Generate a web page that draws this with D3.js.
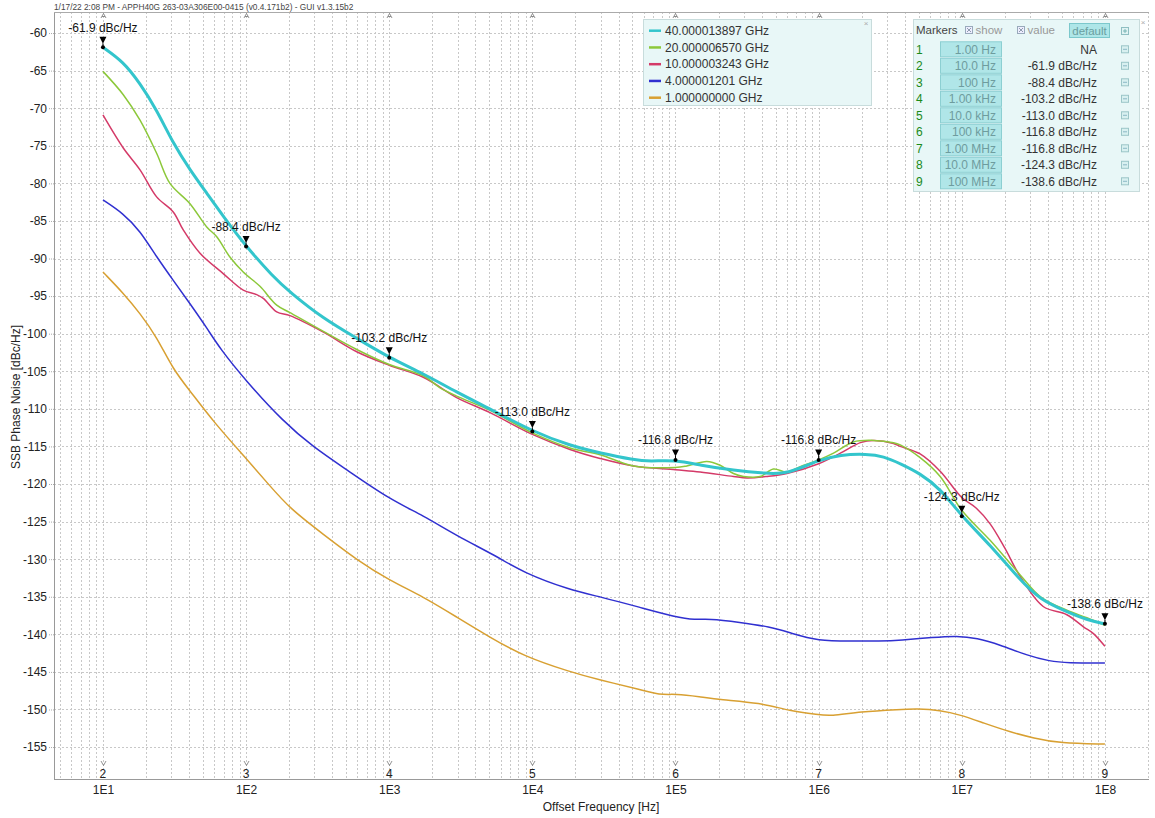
<!DOCTYPE html>
<html><head><meta charset="utf-8">
<script src="https://cdn.jsdelivr.net/npm/d3@7"></script>
<style>
body{margin:0;background:#fff;}
svg{display:block;font-family:"Liberation Sans",Arial,sans-serif;}
</style>
</head><body>
<svg id="c" width="1155" height="818"></svg>
<script>
// ---------------- DATA ----------------
const headerText = "1/17/22 2:08 PM - APPH40G 263-03A306E00-0415 (v0.4.171b2) - GUI v1.3.15b2";
const seriesNames = ["40.000013897 GHz","20.000006570 GHz","10.000003243 GHz","4.000001201 GHz","1.000000000 GHz"];
const seriesColors = ["#33c5cc","#8cc83a","#d43a68","#3030d0","#d8a032"];

// offsets given as log10(Hz) exponents, values in dBc/Hz
const s40Exp = [1.0,1.142,1.259,1.375,1.491,1.608,1.725,1.841,2.0,2.188,2.307,2.54,2.773,3.0,3.238,3.471,3.704,4.0,4.263,4.476,4.708,4.823,5.0,5.172,5.405,5.638,5.778,6.0,6.152,6.337,6.453,6.572,6.709,6.849,7.0,7.198,7.408,7.548,7.734,7.874,8.0];
const s40Db  = [-61.9,-63.8,-66.7,-70.2,-74.7,-78.2,-81.3,-84.4,-88.4,-92.4,-94.5,-98.0,-100.6,-103.2,-105.3,-107.8,-110.0,-113.0,-114.9,-115.9,-116.8,-117.0,-116.8,-117.5,-118.2,-118.6,-118.7,-116.8,-116.1,-116.0,-116.3,-117.3,-118.6,-120.6,-124.3,-128.1,-132.8,-135.4,-137.0,-138.1,-138.6];

const s20Exp = [1.0,1.142,1.259,1.375,1.468,1.608,1.725,1.795,1.887,1.98,2.097,2.214,2.307,2.54,2.773,3.0,3.238,3.355,3.471,3.704,4.0,4.263,4.473,4.706,5.0,5.079,5.219,5.312,5.405,5.475,5.591,5.684,5.778,5.871,6.0,6.104,6.243,6.383,6.523,6.57,6.709,6.849,7.0,7.198,7.408,7.55,7.734,7.874,8.0];
const s20Db  = [-65.1,-68.2,-71.6,-76.0,-80.0,-82.7,-85.8,-87.1,-89.8,-91.8,-93.7,-96.2,-97.2,-99.7,-102.1,-104.1,-105.6,-107.2,-108.3,-110.2,-113.2,-115.2,-116.1,-117.6,-117.8,-117.6,-117.0,-117.5,-118.6,-119.0,-119.0,-118.0,-118.4,-117.7,-116.8,-115.9,-114.4,-114.2,-114.5,-114.8,-116.5,-119.0,-123.5,-127.5,-132.1,-135.0,-136.8,-137.8,-138.8];

const s10Exp = [1.0,1.142,1.259,1.375,1.491,1.561,1.678,1.84,1.98,2.074,2.12,2.214,2.307,2.54,2.773,3.0,3.238,3.471,3.704,4.0,4.263,4.473,4.706,5.0,5.172,5.405,5.5,5.638,5.778,6.0,6.152,6.292,6.383,6.523,6.57,6.709,6.849,7.0,7.1,7.198,7.3,7.408,7.569,7.734,7.85,7.92,8.0];
const s10Db  = [-70.9,-75.3,-78.2,-81.8,-83.8,-86.2,-89.3,-92.0,-94.2,-94.8,-95.3,-97.1,-97.6,-99.8,-102.4,-104.2,-105.8,-108.5,-110.5,-113.4,-115.4,-116.6,-117.6,-118.1,-118.4,-119.0,-119.2,-119.0,-118.6,-117.3,-115.9,-114.5,-114.2,-114.6,-115.0,-116.0,-118.3,-121.8,-123.2,-125.3,-128.5,-132.3,-136.3,-137.4,-139.0,-139.9,-141.6];

const s4Exp = [1.0,1.142,1.259,1.375,1.491,1.608,1.725,1.818,2.0,2.26,2.47,2.703,3.0,3.238,3.471,3.751,3.937,4.263,4.473,4.75,5.0,5.14,5.23,5.45,5.66,5.8,6.0,6.22,6.43,6.57,6.802,6.966,7.105,7.268,7.455,7.618,7.734,8.0];
const s4Db  = [-82.2,-84.0,-86.3,-89.8,-92.9,-96.0,-99.2,-102.0,-106.3,-111.7,-115.1,-118.1,-122.0,-124.2,-126.9,-129.6,-131.8,-134.1,-135.0,-136.4,-137.7,-138.1,-137.9,-138.4,-139.0,-139.8,-140.9,-140.9,-140.9,-140.8,-140.4,-140.2,-140.5,-141.4,-142.8,-143.6,-143.8,-143.8];

const s1Exp = [1.0,1.142,1.259,1.375,1.491,1.608,1.771,2.0,2.155,2.307,2.54,2.773,3.0,3.238,3.471,3.704,3.937,4.263,4.473,4.75,4.89,5.0,5.17,5.31,5.59,5.8,6.0,6.08,6.29,6.57,6.686,6.849,6.989,7.152,7.338,7.501,7.687,8.0];
const s1Db  = [-91.8,-94.6,-97.3,-100.4,-104.8,-107.6,-111.7,-116.6,-120.0,-123.3,-126.7,-130.1,-132.8,-135.0,-137.7,-140.4,-142.9,-145.0,-146.1,-147.3,-148.1,-147.9,-148.3,-148.7,-149.1,-150.2,-150.7,-150.9,-150.3,-150.0,-149.9,-150.1,-150.7,-151.8,-153.0,-153.8,-154.5,-154.6];

const yTickValues = [-60,-65,-70,-75,-80,-85,-90,-95,-100,-105,-110,-115,-120,-125,-130,-135,-140,-145,-150,-155];
const xTickValues = [1e1,1e2,1e3,1e4,1e5,1e6,1e7,1e8];
const xTickLabels = ["1E1","1E2","1E3","1E4","1E5","1E6","1E7","1E8"];

const markerIds = [1,2,3,4,5,6,7,8,9];
const markerFreqText = ["1.00 Hz","10.0 Hz","100 Hz","1.00 kHz","10.0 kHz","100 kHz","1.00 MHz","10.0 MHz","100 MHz"];
const markerValueText = ["NA","-61.9 dBc/Hz","-88.4 dBc/Hz","-103.2 dBc/Hz","-113.0 dBc/Hz","-116.8 dBc/Hz","-116.8 dBc/Hz","-124.3 dBc/Hz","-138.6 dBc/Hz"];
const markerFreqHz = [1,10,100,1e3,1e4,1e5,1e6,1e7,1e8];
const markerDb = [null,-61.9,-88.4,-103.2,-113.0,-116.8,-116.8,-124.3,-138.6];

// ---------------- CHART ----------------
const svg = d3.select("#c");
const L=54, R=1148, T=12, B=779;
const x = d3.scaleLog().domain([4.55, 2.0e8]).range([L, R]);
const y = d3.scaleLinear().domain([-57.2, -159.25]).range([T, B]);

// header
svg.append("text").attr("x",54).attr("y",10).attr("font-size",8.3).attr("fill","#444").text(headerText);

// grid
const grid = svg.append("g").attr("stroke","#c8c8c8").attr("stroke-dasharray","2,2").attr("stroke-width",1).attr("shape-rendering","crispEdges");
const vLines = [];
for (let d=0; d<=8; d++) for (let k=1; k<=9; k++) { const v=k*Math.pow(10,d); if (v>=x.domain()[0] && v<=x.domain()[1]) vLines.push(v); }
grid.selectAll("line.v").data(vLines).join("line").attr("class","v")
  .attr("x1",d=>Math.round(x(d))+0.5).attr("x2",d=>Math.round(x(d))+0.5).attr("y1",T).attr("y2",B);
grid.append("line").attr("x1",R+0.5).attr("x2",R+0.5).attr("y1",T).attr("y2",B);
grid.selectAll("line.h").data(yTickValues).join("line").attr("class","h")
  .attr("x1",L).attr("x2",R).attr("y1",d=>Math.round(y(d))+0.5).attr("y2",d=>Math.round(y(d))+0.5);

// frame
svg.append("line").attr("x1",L+0.5).attr("x2",L+0.5).attr("y1",T).attr("y2",B).attr("stroke","#999");
svg.append("line").attr("x1",L).attr("x2",R+1).attr("y1",B+0.5).attr("y2",B+0.5).attr("stroke","#999");
svg.append("line").attr("x1",L).attr("x2",R+1).attr("y1",T+0.5).attr("y2",T+0.5).attr("stroke","#aaa");

// axes
const yAxis = svg.append("g").attr("transform",`translate(${L},0)`)
  .call(d3.axisLeft(y).tickValues(yTickValues).tickSizeInner(5).tickSizeOuter(0).tickPadding(2).tickFormat(d=>d));
yAxis.select(".domain").remove();
yAxis.selectAll(".tick line").attr("stroke","#aaa").attr("stroke-dasharray","1,1");
yAxis.selectAll("text").attr("font-size",12).attr("fill","#222").attr("font-family","Liberation Sans, Arial, sans-serif");

const xAxis = svg.append("g").attr("transform",`translate(0,${B})`)
  .call(d3.axisBottom(x).tickValues(xTickValues).tickSize(0).tickPadding(6.5).tickFormat((d,i)=>xTickLabels[i]));
xAxis.select(".domain").remove();
xAxis.selectAll("text").attr("font-size",12).attr("fill","#222").attr("font-family","Liberation Sans, Arial, sans-serif");

svg.append("text").attr("x",(L+R)/2).attr("y",811).attr("text-anchor","middle").attr("font-size",12).attr("fill","#222").text("Offset Frequency [Hz]");
svg.append("text").attr("transform",`translate(20,397) rotate(-90)`).attr("text-anchor","middle").attr("font-size",12).attr("fill","#222").text("SSB Phase Noise [dBc/Hz]");

// marker guide glyphs (top caret, bottom arrow + number)
const mg = svg.append("g");
const shownMarkers = markerIds.map((id,i)=>({id,f:markerFreqHz[i],v:markerDb[i]})).filter(m=>m.v!==null);
mg.selectAll("path.top").data(shownMarkers).join("path").attr("class","top")
  .attr("d",m=>{const px=Math.round(x(m.f))+0.5;return `M${px-2.5},18 L${px},13.5 L${px+2.5},18 M${px-1.5},16.5 L${px+1.5},16.5`;})
  .attr("fill","none").attr("stroke","#777").attr("stroke-width",0.8);
mg.selectAll("path.bot").data(shownMarkers).join("path").attr("class","bot")
  .attr("d",m=>{const px=Math.round(x(m.f))+0.5;return `M${px-2.5},761 L${px},765.5 L${px+2.5},761`;})
  .attr("fill","none").attr("stroke","#777").attr("stroke-width",0.8);
mg.selectAll("text").data(shownMarkers).join("text")
  .attr("x",m=>x(m.f)).attr("y",777.5).attr("text-anchor","middle").attr("font-size",12).attr("fill","#222").text(m=>m.id);

// series
const seriesData = [
  [s40Exp,s40Db],[s20Exp,s20Db],[s10Exp,s10Db],[s4Exp,s4Db],[s1Exp,s1Db]
].map(([e,v],i)=>({name:seriesNames[i],color:seriesColors[i],smooth:(i===0||i>=3),pts:e.map((ex,j)=>[Math.pow(10,ex),v[j]])}));
const lineSmooth = d3.line().x(d=>x(d[0])).y(d=>y(d[1])).curve(d3.curveBasis);
const lineWiggle = d3.line().x(d=>x(d[0])).y(d=>y(d[1])).curve(d3.curveCatmullRom.alpha(0.5));
svg.append("g").selectAll("path").data(seriesData.slice().reverse()).join("path")
  .attr("d",s=>(s.smooth?lineSmooth:lineWiggle)(s.pts)).attr("fill","none").attr("stroke",s=>s.color)
  .attr("stroke-width",s=>s.name===seriesNames[0]?3:1.5).attr("stroke-linejoin","round");

// markers on trace
const mk = svg.append("g");
shownMarkers.forEach(m=>{
  const px=x(m.f), py=y(m.v);
  mk.append("line").attr("x1",px).attr("x2",px).attr("y1",py-4).attr("y2",py).attr("stroke","#000").attr("stroke-width",1);
  mk.append("path").attr("d",`M${px-3.5},${py-10.5} L${px+3.5},${py-10.5} L${px},${py-3.5} Z`).attr("fill","#000");
  mk.append("circle").attr("cx",px).attr("cy",py).attr("r",2).attr("fill","#000");
  mk.append("text").attr("x",px).attr("y",py-15.5).attr("text-anchor","middle").attr("font-size",12).attr("fill","#111")
    .text(markerValueText[m.id-1]);
});

// legend
const lg = svg.append("g");
lg.append("rect").attr("x",643.5).attr("y",19.5).attr("width",228).attr("height",86).attr("fill","#e8f7f7").attr("stroke","#c8dcdc");
lg.append("text").attr("x",866).attr("y",26).attr("text-anchor","middle").attr("font-size",8).attr("fill","#aaa").text("×");
const lgRows = lg.selectAll("g.row").data(seriesData).join("g").attr("class","row")
  .attr("transform",(d,i)=>`translate(0,${30.7+i*16.75})`);
lgRows.append("line").attr("x1",649).attr("x2",661).attr("stroke",d=>d.color).attr("stroke-width",2.5);
lgRows.append("text").attr("x",665).attr("dy","0.35em").attr("font-size",12).attr("fill","#333").text(d=>d.name);

// markers table
const mt = svg.append("g");
mt.append("rect").attr("x",913.5).attr("y",19.5).attr("width",226).attr("height",172).attr("fill","#e8f7f7").attr("stroke","#c8dcdc");
mt.append("text").attr("x",1143).attr("y",25).attr("text-anchor","middle").attr("font-size",8).attr("fill","#aaa").text("×");
mt.append("text").attr("x",916).attr("y",34).attr("font-size",11.5).attr("fill","#444").text("Markers");
[[965,"show"],[1017,"value"]].forEach(([cx,t])=>{
  mt.append("rect").attr("x",cx+0.5).attr("y",26.5).attr("width",7).attr("height",7).attr("fill","#eef").attr("stroke","#9ab");
  mt.append("path").attr("d",`M${cx+2},${28} L${cx+6},${32} M${cx+6},${28} L${cx+2},${32}`).attr("stroke","#789").attr("stroke-width",0.8);
  mt.append("text").attr("x",cx+10.5).attr("y",34).attr("font-size",11.5).attr("fill","#999").text(t);
});
mt.append("rect").attr("x",1069.5).attr("y",23.5).attr("width",40).attr("height",14).attr("fill","#aee6e8").attr("stroke","#7cc8cc");
mt.append("text").attr("x",1089.5).attr("y",34.5).attr("text-anchor","middle").attr("font-size",11.5).attr("fill","#6a9ea0").text("default");
mt.append("rect").attr("x",1121.5).attr("y",27.5).attr("width",7).attr("height",7).attr("fill","#e0f3f3").attr("stroke","#8fbfc2");
mt.append("path").attr("d","M1123,31 L1127,31 M1125,29 L1125,33").attr("stroke","#6aa").attr("stroke-width",0.8);

const mRows = mt.selectAll("g.mrow").data(markerIds).join("g").attr("class","mrow")
  .attr("transform",(d,i)=>`translate(0,${49.3+i*16.5})`);
mRows.append("text").attr("x",916).attr("dy","0.36em").attr("font-size",12).attr("fill","#1a8a1a").text(d=>d);
mRows.append("rect").attr("x",940.5).attr("y",-7.5).attr("width",61).attr("height",15).attr("fill","#b0e6e8").attr("stroke","#8ccfd2");
mRows.append("text").attr("x",996).attr("dy","0.36em").attr("text-anchor","end").attr("font-size",12).attr("fill","#6e9c9e").text((d,i)=>markerFreqText[i]);
mRows.append("text").attr("x",1097).attr("dy","0.36em").attr("text-anchor","end").attr("font-size",12).attr("fill","#333").text((d,i)=>markerValueText[i]);
mRows.append("rect").attr("x",1121.5).attr("y",-3.5).attr("width",7).attr("height",7).attr("fill","#d8f0f0").attr("stroke","#9cc6c8");
mRows.append("line").attr("x1",1123).attr("x2",1127).attr("y1",0).attr("y2",0).attr("stroke","#7ab").attr("stroke-width",0.8);
</script>
</body></html>
